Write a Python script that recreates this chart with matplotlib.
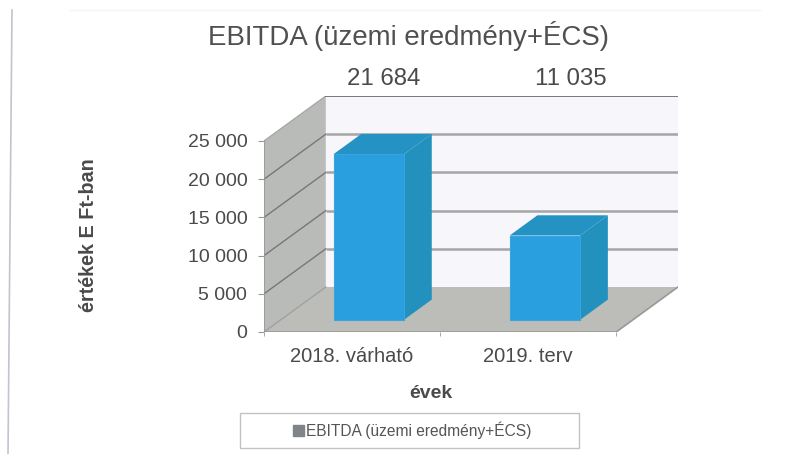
import matplotlib
matplotlib.use('Agg')
import matplotlib.pyplot as plt
from matplotlib.lines import Line2D
from matplotlib.patches import Rectangle

plt.rcParams['font.family'] = ['Liberation Sans', 'DejaVu Sans']

# data
categories = ['2018. várható', '2019. terv']
values = [21684, 11035]
value_labels = ['21 684', '11 035']
y_ticks = [0, 5000, 10000, 15000, 20000, 25000]
y_tick_labels = ['0', '5 000', '10 000', '15 000', '20 000', '25 000']
title = 'EBITDA (üzemi eredmény+ÉCS)'
series_name = 'EBITDA (üzemi eredmény+ÉCS)'

# settings
W, H = 803, 454
depth_x = 0.351  # depth of the 3d box, in categories
depth_y = 5890   # same, in value units
bar_width = 0.40
bar_front = 0.27
bar_back = 0.72
label_shift = [0.18, 0.24]
text_color = '#4a4a4a'
front_color = '#2a9fdf'
side_color = '#2391bd'
top_color = '#2592c4'
wall_color = '#b9bbb9'
floor_color = '#bcbdb8'
back_color = '#f6f6fb'
grid_color = '#a6a6a6'

fig = plt.figure(figsize=(W / 100, H / 100), dpi=100, facecolor='white')
ax = fig.add_axes([264 / W, 1 - 332 / H, (678 - 264) / W, (332 - 96) / H])
ax.set_xlim(0, 2 + depth_x)
ax.set_ylim(0, 25000 + depth_y)
ax.patch.set_visible(False)
for s in ax.spines.values():
    s.set_visible(False)

top = y_ticks[-1]
# back wall, left wall, floor
ax.fill([depth_x, 2 + depth_x, 2 + depth_x, depth_x],
        [depth_y, depth_y, top + depth_y, top + depth_y], color=back_color, lw=0, zorder=1)
ax.fill([0, depth_x, depth_x, 0], [0, depth_y, top + depth_y, top], color=wall_color, lw=0, zorder=1)
ax.fill([0, 2, 2 + depth_x, depth_x], [0, 0, depth_y, depth_y], color=floor_color, lw=0, zorder=1)

# gridlines
for v in y_ticks[1:-1]:
    ax.plot([0, depth_x], [v, v + depth_y], color='#777777', lw=1, zorder=2)
    ax.plot([depth_x, 2 + depth_x], [v + depth_y, v + depth_y], color=grid_color, lw=1.8,
            zorder=2, solid_capstyle='butt')
ax.plot([0, depth_x], [top, top + depth_y], color='#a8a8a8', lw=1, zorder=2)
ax.plot([depth_x, 2 + depth_x], [top + depth_y, top + depth_y], color='#6e6e6e', lw=1.3, zorder=2)
ax.plot([0, depth_x], [0, depth_y], color='#a0a0a0', lw=1, zorder=2)
ax.plot([0, 0, 2, 2 + depth_x], [top, 0, 0, depth_y], color='#989898', lw=1.2, zorder=2)

# bars
for i, v in enumerate(values):
    x0 = i + 0.5 - bar_width / 2 + bar_front * depth_x
    x1 = x0 + bar_width
    base = bar_front * depth_y
    dx = (bar_back - bar_front) * depth_x
    dy = (bar_back - bar_front) * depth_y
    ax.fill([x1, x1 + dx, x1 + dx, x1], [base, base + dy, base + v + dy, base + v],
            color=side_color, lw=0, zorder=3)
    ax.fill([x0, x1, x1 + dx, x0 + dx], [base + v, base + v, base + v + dy, base + v + dy],
            color=top_color, lw=0, zorder=3)
    ax.bar(x0, v, bar_width, bottom=base, align='edge', color=front_color,
           edgecolor='#3aa5dc', lw=0.8, zorder=4)
    ax.text(i + 0.5 + label_shift[i], top + depth_y + 750, value_labels[i], ha='center', va='bottom',
            fontsize=17.3, color=text_color)

ax.set_yticks(y_ticks, y_tick_labels, fontsize=14, color=text_color)
ax.set_xticks([0.5, 1.5], categories, fontsize=14.5, color=text_color)
ax.set_xticks([0, 1, 2], minor=True)
ax.tick_params(axis='y', length=4, color='#989898', pad=8)
ax.tick_params(axis='x', which='major', length=0, pad=11)
ax.tick_params(axis='x', which='minor', length=3, color='#989898')

# titles
fig.text(409 / W, 1 - 36 / H, title, ha='center', va='center', fontsize=19.9, color='#505050')
fig.text(431 / W, 1 - 394 / H, 'évek', ha='center', va='center', fontsize=14,
         fontweight='bold', color=text_color)
fig.text(89 / W, 1 - 235 / H, 'értékek E Ft-ban', ha='center', va='center', rotation=90,
         fontsize=14.2, fontweight='bold', color=text_color)

# legend box
fig.add_artist(Rectangle((240 / W, 1 - 448 / H), 339 / W, 35 / H, transform=fig.transFigure,
                         facecolor='white', edgecolor='#c2c2c2', lw=1))
handle = Rectangle((0, 0), 1, 1, color='#808488')
fig.legend([handle], [series_name], loc='center', bbox_to_anchor=(412 / W, 1 - 430 / H),
           frameon=False, fontsize=11.2, labelcolor='#555555', handlelength=0.7,
           handleheight=0.7, handletextpad=0.15)

# scanned page edges
fig.add_artist(Line2D([12 / W, 8 / W], [1 - 10 / H, 0], transform=fig.transFigure, color='#c4c2cc', lw=1.2))
fig.add_artist(Line2D([70 / W, 760 / W], [1 - 10 / H, 1 - 10 / H], transform=fig.transFigure, color='#f4f4f4', lw=1))

fig.savefig('out.png', dpi=100)
